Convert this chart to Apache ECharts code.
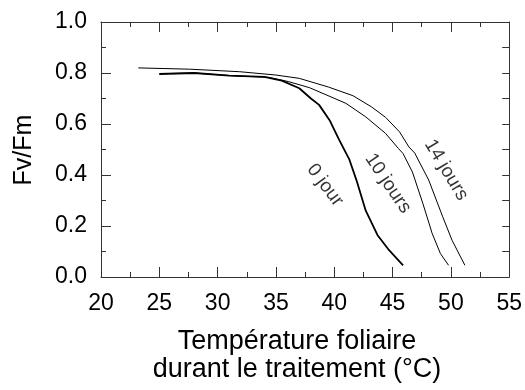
<!DOCTYPE html>
<html><head><meta charset="utf-8">
<script src="https://cdn.jsdelivr.net/npm/echarts@6/dist/echarts.min.js"></script>
<style>html,body{margin:0;padding:0;background:#fff}#c{width:525px;height:390px}</style>
</head><body><div id="c"></div>
<script>
const xTicks = [20,25,30,35,40,45,50,55];
const yTicks = [0.0,0.2,0.4,0.6,0.8,1.0];
const jour0 = [[25,0.796],[28,0.80],[31,0.79],[34,0.785],[35.5,0.77],[37,0.74],[38,0.70],[38.7,0.675],[39.6,0.615],[40.4,0.54],[41.3,0.46],[41.9,0.38],[42.7,0.26],[43.7,0.165],[44.7,0.105],[45.9,0.046]];
const jours10 = [[25,0.797],[28,0.80],[31,0.79],[34.4,0.783],[36.1,0.766],[37.9,0.742],[41.0,0.681],[42.7,0.628],[44.4,0.563],[45.5,0.504],[45.9,0.484],[46.7,0.412],[47.6,0.288],[48.4,0.17],[49.1,0.092],[49.8,0.046]];
const jours14 = [[23.2,0.82],[27.6,0.815],[31.9,0.805],[35.0,0.792],[37.0,0.779],[39.5,0.745],[41.6,0.711],[43.2,0.667],[44.4,0.626],[45.6,0.569],[46.4,0.51],[46.9,0.486],[48.1,0.38],[49.3,0.236],[50.1,0.144],[51.2,0.046]];
const labels = [
  {name:'0 jour', value:[39.2,0.36], rot:-53},
  {name:'10 jours', value:[44.6,0.367], rot:-56},
  {name:'14 jours', value:[49.6,0.42], rot:-59}
];
const font = '"Liberation Sans", Arial, sans-serif';
const ax = {color:'#333', width:1};
const chart = echarts.init(document.getElementById('c'));
chart.setOption({
  animation:false,
  grid:{left:101, right:15, top:22, bottom:113},
  xAxis:[
    {type:'value', min:20, max:55, interval:5, position:'bottom',
     axisLine:{show:true, onZero:false, lineStyle:ax},
     axisTick:{show:true, inside:true, length:10, lineStyle:ax},
     minorTick:{show:true, splitNumber:2, length:5, lineStyle:ax},
     splitLine:{show:false},
     axisLabel:{margin:15, fontSize:23, color:'#000', fontFamily:font,
       formatter:v=>xTicks.includes(v)?String(v):''}},
    {type:'value', min:20, max:55, interval:5, position:'top',
     axisLine:{show:true, onZero:false, lineStyle:ax},
     axisTick:{show:true, inside:true, length:10, lineStyle:ax},
     minorTick:{show:true, splitNumber:2, length:5, lineStyle:ax},
     splitLine:{show:false}, axisLabel:{show:false}}
  ],
  yAxis:[
    {type:'value', min:0, max:1, interval:0.2, position:'left',
     axisLine:{show:true, onZero:false, lineStyle:ax},
     axisTick:{show:true, inside:true, length:10, lineStyle:ax},
     minorTick:{show:true, splitNumber:2, length:5, lineStyle:ax},
     splitLine:{show:false},
     axisLabel:{margin:14, fontSize:23, color:'#000', fontFamily:font,
       formatter:v=>{const t=yTicks.find(k=>Math.abs(k-v)<1e-6);return t===undefined?'':t.toFixed(1);}}},
    {type:'value', min:0, max:1, interval:0.1, position:'right',
     axisLine:{show:true, onZero:false, lineStyle:ax},
     axisTick:{show:true, inside:true, length:7, lineStyle:ax},
     splitLine:{show:false}, axisLabel:{show:false}}
  ],
  graphic:[
    {type:'text', x:24, y:150, rotation:Math.PI/2,
     style:{text:'Fv/Fm', font:'25px '+font, fill:'#000', align:'center', verticalAlign:'middle'}},
    {type:'text', x:297, y:342, style:{text:'Température foliaire', font:'27px '+font, fill:'#000', align:'center', verticalAlign:'middle'}},
    {type:'text', x:297, y:370, style:{text:'durant le traitement (°C)', font:'27px '+font, fill:'#000', align:'center', verticalAlign:'middle'}}
  ],
  series:[
    {type:'line', data:jour0, showSymbol:false, lineStyle:{color:'#000', width:1.8}},
    {type:'line', data:jours10, showSymbol:false, lineStyle:{color:'#000', width:1}},
    {type:'line', data:jours14, showSymbol:false, lineStyle:{color:'#000', width:1}},
    {type:'scatter', symbolSize:0, silent:true,
     data:labels.map(l=>({name:l.name, value:l.value, label:{rotate:l.rot}})),
     label:{show:true, position:'inside', formatter:'{b}', fontSize:19, color:'#000', fontFamily:font}}
  ]
});
</script></body></html>
